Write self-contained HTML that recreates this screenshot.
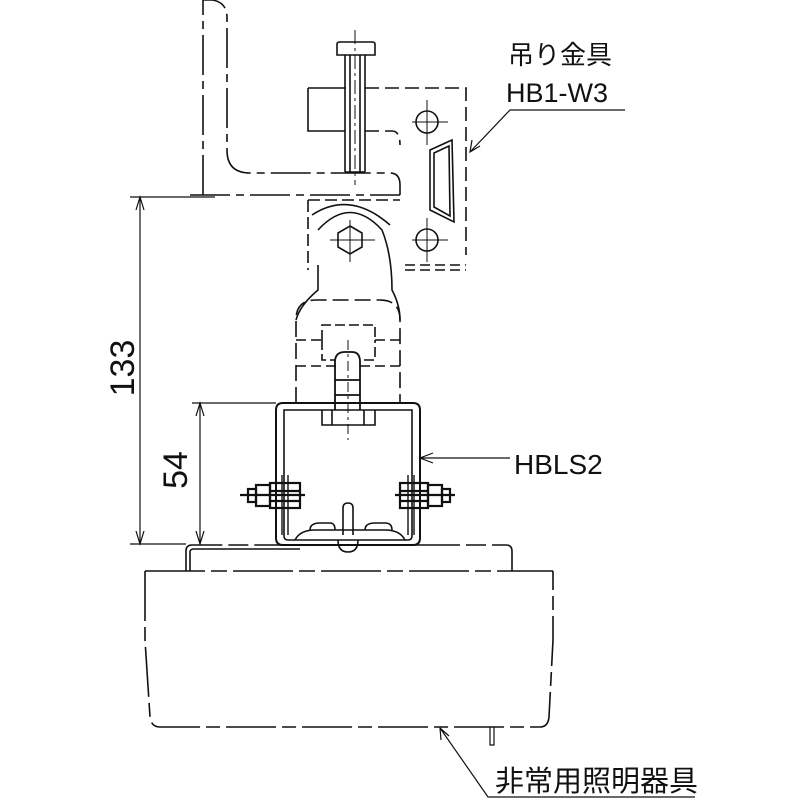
<!DOCTYPE html>
<html><head><meta charset="utf-8"><style>
html,body{margin:0;padding:0;background:#fff;}
svg{display:block}
text{font-family:"Liberation Sans","Noto Sans CJK JP",sans-serif;fill:#111}
</style></head><body>
<svg width="800" height="800" viewBox="0 0 800 800" xmlns="http://www.w3.org/2000/svg">
<g fill="none" stroke="#111" stroke-width="1.6">
<!-- angle steel (dashed) -->
<path d="M203,195 V0 H212 Q227,2 227,18 V150 Q227,173 250,173 H390 Q400,173 400,185 V195" stroke-dasharray="40,6,8,6"/>
<path d="M190,195 H400" stroke-dasharray="40,6,8,6"/>
<!-- clamp block -->
<path d="M308,88 H346 M308,88 V131 H345"/>
<path d="M365,88 H466 V255" stroke-dasharray="14,6"/>
<path d="M365,131 H392 Q400,131 400,145" stroke-dasharray="14,6"/>
<!-- bolt -->
<path d="M337,55 V44 Q337,42 340,42 H372 Q375,42 375,44 V55 Z M345,55 V172 M365,55 V172 M345,172 H365 M350,55 V172 M360,55 V172"/>
<path d="M355,30 V185" stroke-width="1" stroke-dasharray="14,4,3,4"/>
<!-- holes -->
<circle cx="427" cy="122" r="11"/><circle cx="427" cy="240" r="11"/>
<path d="M412,122 H448 M427,100 V145 M412,240 H448 M427,218 V262" stroke-width="1"/>
<path d="M430,150 L452,140 L454,222 L430,210 Z M434,153 L449,146 L450,216 L434,207 Z"/>
<!-- upper hanger plate -->
<path d="M308,200 V270 M308,200 H400" stroke-dasharray="12,5"/>
<path d="M312,215 Q350,190 390,225 M318,265 L318,290 Q300,305 296,320" />
<path d="M318,230 Q350,195 382,230 Q392,255 392,290 Q400,305 400,320" />
<polygon points="350,226 362,233 362,247 350,254 338,247 338,233"/>
<path d="M330,240 H375 M350,220 V262" stroke-width="1"/>
<path d="M405,265 H466 M405,270 H466" stroke-dasharray="10,5"/>
<!-- lower hanger dashed -->
<path d="M296,403 V320 Q296,300 316,300 H380 Q400,300 400,320 V403" stroke-dasharray="16,6"/>
<path d="M322,340 V325 H375 V340 M322,340 V360 H336 M364,360 H375 V340" stroke-dasharray="10,4"/>
<path d="M296,340 H322 M375,340 H400 M296,366 H336 M360,366 H400" stroke-dasharray="10,5"/>
<path d="M335,410 V362 Q335,352 345,352 H352 Q360,352 360,362 V410 M335,380 H360 M335,395 H360" stroke-width="1.8"/>
<path d="M348,340 V440" stroke-width="1" stroke-dasharray="10,4,3,4"/>
<!-- channel U -->
<path d="M276,538 V410 Q276,403 283,403 H413 Q420,403 420,410 V538 Q420,545 413,545 H283 Q276,545 276,538 Z" stroke-width="2"/>
<path d="M284,536 V410 H412 V536 Q412,540 408,540 H288 Q284,540 284,536 Z" stroke-width="1.6"/>
<path d="M322,410 V425 H375 V410 M332,410 V425 M364,410 V425" stroke-width="1.6"/>
<!-- side nuts -->
<g stroke-width="2.2">
<rect x="270" y="483" width="30" height="25"/><rect x="256" y="485" width="14" height="21"/><rect x="248" y="489" width="8" height="13"/>
<path d="M240,495 H305 M270,491 H300 M270,501 H300"/>
<rect x="400" y="483" width="28" height="25"/><rect x="428" y="485" width="14" height="21"/><rect x="442" y="489" width="8" height="13"/>
<path d="M395,495 H455 M400,491 H428 M400,501 H428"/>
</g>
<path d="M282,475 V535 M288,475 V535 M408,475 V535 M414,475 V535" stroke-width="1.4"/>
<!-- bottom clip -->
<path d="M295,540 Q300,530 315,530 H385 Q400,530 405,540 M310,530 Q310,523 320,523 H330 Q335,523 335,530 M365,530 Q365,523 375,523 H385 Q392,523 392,530" stroke-width="1.6"/>
<path d="M343,535 V508 Q343,503 348,503 Q353,503 353,508 V535 M338,540 Q338,552 348,552 Q358,552 358,540" stroke-width="1.6"/>
<!-- fixture top plate -->
<path d="M186,571 V551 Q186,545 192,545 H300 M400,545 H506 Q512,545 512,551 V571" stroke-dasharray="60,6,20,6"/>
<path d="M190,571 V552 Q190,549 194,549 H300"/>
<!-- fixture body -->
<path d="M145,571 H553" stroke-dasharray="60,6,16,6"/>
<path d="M145,571 V640 L150,717 Q151,727 160,727 H540 Q548,727 549,717 L553,640 V571" stroke-dasharray="50,6,14,6"/>
<path d="M490,727 V745 H494 V727" stroke-width="1.2"/>
<!-- dimensions -->
<g stroke-width="1.2">
<path d="M130,197 H215 M130,544 H186 M192,403 H276"/>
<path d="M140,197 V544 M200,403 V544"/>
<path d="M136,210 L140,197 L144,210 M136,531 L140,544 L144,531 M196,416 L200,403 L204,416 M196,531 L200,544 L204,531"/>
<!-- leaders -->
<path d="M420,458 H510 M433,453 L420,458 L433,463"/>
<path d="M625,110 H510 L470,152 M472,140 L470,152 L480,146"/>
<path d="M440,728 L488,797 H695 M441,740 L440,728 L449,736"/>
</g>
</g>
<text x="125" y="368" font-size="34" text-anchor="middle" transform="rotate(-90 125 368)" dominant-baseline="middle">133</text>
<text x="178" y="470" font-size="34" text-anchor="middle" transform="rotate(-90 178 470)" dominant-baseline="middle">54</text>
<text x="514" y="474" font-size="28">HBLS2</text>
<text x="508" y="64" font-size="26">吊り金具</text>
<text x="506" y="102" font-size="27">HB1-W3</text>
<text x="495" y="791" font-size="29">非常用照明器具</text>
</svg>
</body></html>
